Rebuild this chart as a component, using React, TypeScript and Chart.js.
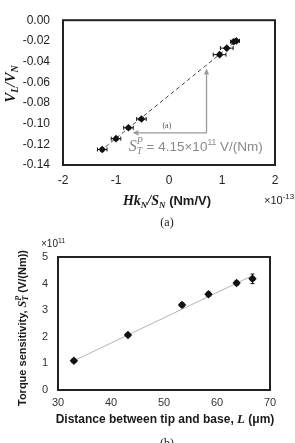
import React, { useEffect, useRef } from "react";
import { Chart, registerables } from "chart.js";

Chart.register(...registerables);

// ---- Panel (a): normalized output V_L/V_N versus Hk_N/S_N (×10^-13 Nm/V) ----
const hkX = [-1.26, -1.0, -0.765, -0.52, 0.955, 1.09, 1.22, 1.27];
const vRatio = [-0.125, -0.1145, -0.104, -0.0955, -0.0333, -0.027, -0.0208, -0.02];
const hkXErr = [0.09, 0.09, 0.09, 0.09, 0.12, 0.12, 0.06, 0.06];
const vRatioErr = [0.0015, 0.0015, 0.0015, 0.0015, 0.0015, 0.0015, 0.0015, 0.0015];
const sensitivityA = 4.15; // S_T^P in ×10^11 V/(Nm)
const fitInterceptA = -0.0727;
const fitRangeA = [-1.3, 1.3];
const xTicksA = [-2, -1, 0, 1, 2];
const yTicksA = [0, -0.02, -0.04, -0.06, -0.08, -0.1, -0.12, -0.14];
// arrow annotation: corner point, top of vertical arrow, left end of horizontal arrow
const arrowCorner = { x: 0.708, y: -0.1089 };
const arrowTopY = -0.0467;
const arrowLeftX = -0.69;

// ---- Panel (b): torque sensitivity versus tip-base distance L ----
const distanceL = [33.0, 43.2, 53.4, 58.4, 63.7, 66.7];
const sensitivityB = [1.1, 2.07, 3.2, 3.6, 4.02, 4.18];
const distanceErr = [0.4, 0.4, 0.4, 0.4, 0.4, 0.4];
const sensitivityErr = [0.06, 0.06, 0.08, 0.08, 0.08, 0.18];
const fitL = [33, 66.7];
const fitS = [1.1, 4.3];
const xTicksB = [30, 40, 50, 60, 70];
const yTicksB = [0, 1, 2, 3, 4, 5];

const SANS = '"Liberation Sans", Arial, sans-serif';
const SERIF = '"Liberation Serif", "Times New Roman", serif';

type Seg = { t: string; font: string; dy?: number; adv?: boolean };

function richWidth(ctx: CanvasRenderingContext2D, segs: Seg[]) {
  let w = 0;
  for (const s of segs) {
    ctx.font = s.font;
    if (s.adv !== false) w += ctx.measureText(s.t).width;
  }
  return w;
}

function drawRich(
  ctx: CanvasRenderingContext2D,
  segs: Seg[],
  x: number,
  y: number,
  align: "left" | "center",
  color: string
) {
  ctx.save();
  ctx.fillStyle = color;
  ctx.textBaseline = "alphabetic";
  ctx.textAlign = "left";
  let cx = align === "center" ? x - richWidth(ctx, segs) / 2 : x;
  for (const s of segs) {
    ctx.font = s.font;
    ctx.fillText(s.t, cx, y + (s.dy || 0));
    if (s.adv !== false) cx += ctx.measureText(s.t).width;
  }
  ctx.restore();
}

function drawRotated(
  ctx: CanvasRenderingContext2D,
  segs: Seg[],
  cx: number,
  cy: number,
  baseOffset: number,
  color: string
) {
  ctx.save();
  ctx.translate(cx, cy);
  ctx.rotate(-Math.PI / 2);
  drawRich(ctx, segs, 0, baseOffset, "center", color);
  ctx.restore();
}

function drawErrorBars(
  chart: any,
  xs: number[],
  ys: number[],
  xe: number[],
  ye: number[],
  cap: number
) {
  const ctx: CanvasRenderingContext2D = chart.ctx;
  const sx = chart.scales.x;
  const sy = chart.scales.y;
  ctx.save();
  ctx.strokeStyle = "#111";
  ctx.lineWidth = 1;
  for (let i = 0; i < xs.length; i++) {
    const px = sx.getPixelForValue(xs[i]);
    const py = sy.getPixelForValue(ys[i]);
    const x0 = sx.getPixelForValue(xs[i] - xe[i]);
    const x1 = sx.getPixelForValue(xs[i] + xe[i]);
    const y0 = sy.getPixelForValue(ys[i] - ye[i]);
    const y1 = sy.getPixelForValue(ys[i] + ye[i]);
    ctx.beginPath();
    ctx.moveTo(x0, py);
    ctx.lineTo(x1, py);
    ctx.moveTo(x0, py - cap);
    ctx.lineTo(x0, py + cap);
    ctx.moveTo(x1, py - cap);
    ctx.lineTo(x1, py + cap);
    ctx.moveTo(px, y0);
    ctx.lineTo(px, y1);
    ctx.moveTo(px - cap, y0);
    ctx.lineTo(px + cap, y0);
    ctx.moveTo(px - cap, y1);
    ctx.lineTo(px + cap, y1);
    ctx.stroke();
  }
  ctx.restore();
}

function drawBox(chart: any) {
  const { ctx, chartArea: a } = chart;
  ctx.save();
  ctx.strokeStyle = "#222";
  ctx.lineWidth = 2;
  ctx.strokeRect(a.left, a.top, a.right - a.left, a.bottom - a.top);
  ctx.restore();
}

function arrow(
  ctx: CanvasRenderingContext2D,
  x0: number,
  y0: number,
  x1: number,
  y1: number,
  color: string
) {
  const ang = Math.atan2(y1 - y0, x1 - x0);
  const len = 6;
  const half = 2.6;
  ctx.save();
  ctx.strokeStyle = color;
  ctx.fillStyle = color;
  ctx.lineWidth = 1.3;
  ctx.beginPath();
  ctx.moveTo(x0, y0);
  ctx.lineTo(x1 - Math.cos(ang) * len, y1 - Math.sin(ang) * len);
  ctx.stroke();
  ctx.beginPath();
  ctx.moveTo(x1, y1);
  ctx.lineTo(
    x1 - Math.cos(ang) * len - Math.sin(ang) * half,
    y1 - Math.sin(ang) * len + Math.cos(ang) * half
  );
  ctx.lineTo(
    x1 - Math.cos(ang) * len + Math.sin(ang) * half,
    y1 - Math.sin(ang) * len - Math.cos(ang) * half
  );
  ctx.closePath();
  ctx.fill();
  ctx.restore();
}

const fixedTicks = (vals: number[]) => (scale: any) => {
  scale.ticks = vals.map((v) => ({ value: v }));
};

const panelAPlugin = {
  id: "panelA",
  beforeDatasetsDraw(chart: any) {
    drawErrorBars(chart, hkX, vRatio, hkXErr, vRatioErr, 2);
  },
  afterDraw(chart: any) {
    const ctx: CanvasRenderingContext2D = chart.ctx;
    const sx = chart.scales.x;
    const sy = chart.scales.y;
    drawBox(chart);

    // slope annotation arrows
    const cx = sx.getPixelForValue(arrowCorner.x);
    const cy = sy.getPixelForValue(arrowCorner.y);
    arrow(ctx, cx, cy, cx, sy.getPixelForValue(arrowTopY), "#9a9a9a");
    arrow(ctx, cx, cy, sx.getPixelForValue(arrowLeftX), cy, "#9a9a9a");
    drawRich(
      ctx,
      [{ t: "(a)", font: `8px ${SERIF}` }],
      sx.getPixelForValue(-0.04),
      sy.getPixelForValue(-0.1013) + 3,
      "center",
      "#555"
    );

    // S_T^P label
    const g = "#8a8a8a";
    drawRich(
      ctx,
      [
        { t: "S", font: `italic 16px ${SERIF}` },
        { t: "T", font: `italic 10px ${SERIF}`, dy: 3, adv: false },
        { t: "P", font: `italic 10px ${SERIF}`, dy: -7 },
        { t: ` = ${sensitivityA.toFixed(2)}×10`, font: `13.5px ${SANS}` },
        { t: "11", font: `8.5px ${SANS}`, dy: -6 },
        { t: " V/(Nm)", font: `13.5px ${SANS}` },
      ],
      sx.getPixelForValue(-0.76),
      sy.getPixelForValue(-0.122) + 5,
      "left",
      g
    );

    // axis titles
    drawRotated(
      ctx,
      [
        { t: "V", font: `bold italic 15px ${SERIF}` },
        { t: "L", font: `bold italic 10px ${SERIF}`, dy: 3 },
        { t: "/V", font: `bold italic 15px ${SERIF}` },
        { t: "N", font: `bold italic 10px ${SERIF}`, dy: 3 },
      ],
      10,
      84,
      5,
      "#1a1a1a"
    );
    drawRich(
      ctx,
      [
        { t: "Hk", font: `bold italic 14px ${SERIF}` },
        { t: "N", font: `bold italic 9px ${SERIF}`, dy: 3 },
        { t: "/S", font: `bold italic 14px ${SERIF}` },
        { t: "N", font: `bold italic 9px ${SERIF}`, dy: 3 },
        { t: " (Nm/V)", font: `bold 13px ${SANS}` },
      ],
      167,
      205,
      "center",
      "#1a1a1a"
    );
    drawRich(
      ctx,
      [
        { t: "×10", font: `11px ${SANS}` },
        { t: "-13", font: `8px ${SANS}`, dy: -5 },
      ],
      264,
      204,
      "left",
      "#222"
    );
    drawRich(ctx, [{ t: "(a)", font: `12px ${SERIF}` }], 167, 226, "center", "#222");
  },
};

const panelBPlugin = {
  id: "panelB",
  beforeDatasetsDraw(chart: any) {
    drawErrorBars(chart, distanceL, sensitivityB, distanceErr, sensitivityErr, 2);
  },
  afterDraw(chart: any) {
    const ctx: CanvasRenderingContext2D = chart.ctx;
    drawBox(chart);
    const top = 232;
    drawRotated(
      ctx,
      [
        { t: "Torque sensitivity, ", font: `bold 11px ${SANS}` },
        { t: "S", font: `bold italic 12px ${SERIF}` },
        { t: "T", font: `bold italic 8px ${SERIF}`, dy: 2, adv: false },
        { t: "P", font: `bold italic 8px ${SERIF}`, dy: -5 },
        { t: " (V/(Nm))", font: `bold 11px ${SANS}` },
      ],
      22,
      328 - top,
      4,
      "#1a1a1a"
    );
    drawRich(
      ctx,
      [
        { t: "×10", font: `10px ${SANS}` },
        { t: "11", font: `7px ${SANS}`, dy: -4 },
      ],
      41,
      247 - top,
      "left",
      "#222"
    );
    drawRich(
      ctx,
      [
        { t: "Distance between tip and base, ", font: `bold 12px ${SANS}` },
        { t: "L", font: `bold italic 13px ${SERIF}` },
        { t: " (μm)", font: `bold 12px ${SANS}` },
      ],
      165,
      423 - top,
      "center",
      "#1a1a1a"
    );
    drawRich(ctx, [{ t: "(b)", font: `12px ${SERIF}` }], 167, 447 - top, "center", "#222");
  },
};

function tickFont(size: number) {
  return { family: SANS, size };
}

export default function App() {
  const refA = useRef<HTMLCanvasElement>(null);
  const refB = useRef<HTMLCanvasElement>(null);

  useEffect(() => {
    const fitA = fitRangeA.map((x) => ({
      x,
      y: sensitivityA * 0.01 * x + fitInterceptA, // 10^11 × 10^-13 = 10^-2
    }));
    const chartA = new Chart(refA.current as HTMLCanvasElement, {
      type: "scatter",
      data: {
        datasets: [
          {
            data: fitA,
            showLine: true,
            borderColor: "#444",
            borderWidth: 1,
            borderDash: [4, 3],
            pointRadius: 0,
            order: 1,
          },
          {
            data: hkX.map((x, i) => ({ x, y: vRatio[i] })),
            pointStyle: "rectRot",
            pointRadius: 3.8,
            backgroundColor: "#111",
            borderColor: "#111",
            borderWidth: 0,
            order: 0,
          },
        ],
      },
      options: {
        responsive: false,
        animation: false,
        events: [],
        layout: { padding: { left: 0, right: 20, top: 15, bottom: 0 } },
        plugins: { legend: { display: false }, tooltip: { enabled: false } },
        scales: {
          x: {
            type: "linear",
            min: -2,
            max: 2,
            afterBuildTicks: fixedTicks(xTicksA),
            afterFit: (s: any) => {
              s.height = 67;
            },
            grid: { display: false, drawTicks: false },
            border: { display: false },
            ticks: { color: "#222", font: tickFont(12), padding: 8, callback: (v: any) => String(v) },
          },
          y: {
            type: "linear",
            min: -0.14,
            max: 0,
            afterBuildTicks: fixedTicks(yTicksA),
            afterFit: (s: any) => {
              s.width = 63;
            },
            grid: { display: false, drawTicks: false },
            border: { display: false },
            ticks: {
              color: "#222",
              font: tickFont(12),
              padding: 13,
              callback: (v: any) => Number(v).toFixed(2),
            },
          },
        },
      },
      plugins: [panelAPlugin],
    } as any);

    const chartB = new Chart(refB.current as HTMLCanvasElement, {
      type: "scatter",
      data: {
        datasets: [
          {
            data: fitL.map((x, i) => ({ x, y: fitS[i] })),
            showLine: true,
            borderColor: "#b4b4b4",
            borderWidth: 1,
            pointRadius: 0,
            order: 1,
          },
          {
            data: distanceL.map((x, i) => ({ x, y: sensitivityB[i] })),
            pointStyle: "rectRot",
            pointRadius: 4.2,
            backgroundColor: "#111",
            borderColor: "#111",
            borderWidth: 0,
            order: 0,
          },
        ],
      },
      options: {
        responsive: false,
        animation: false,
        events: [],
        layout: { padding: { left: 0, right: 25, top: 25, bottom: 0 } },
        plugins: { legend: { display: false }, tooltip: { enabled: false } },
        scales: {
          x: {
            type: "linear",
            min: 30,
            max: 70,
            afterBuildTicks: fixedTicks(xTicksB),
            afterFit: (s: any) => {
              s.height = 53;
            },
            grid: { display: false, drawTicks: false },
            border: { display: false },
            ticks: { color: "#333", font: tickFont(11), padding: 6 },
          },
          y: {
            type: "linear",
            min: 0,
            max: 5,
            afterBuildTicks: fixedTicks(yTicksB),
            afterFit: (s: any) => {
              s.width = 58;
            },
            grid: { display: false, drawTicks: false },
            border: { display: false },
            ticks: { color: "#333", font: tickFont(11), padding: 10 },
          },
        },
      },
      plugins: [panelBPlugin],
    } as any);

    return () => {
      chartA.destroy();
      chartB.destroy();
    };
  }, []);

  return (
    <div
      style={{
        position: "absolute",
        left: 0,
        top: 0,
        width: 295,
        height: 443,
        background: "#fff",
        overflow: "hidden",
      }}
    >
      <canvas
        ref={refA}
        width={295}
        height={232}
        style={{ position: "absolute", left: 0, top: 0, width: 295, height: 232 }}
      />
      <canvas
        ref={refB}
        width={295}
        height={211}
        style={{ position: "absolute", left: 0, top: 232, width: 295, height: 211 }}
      />
    </div>
  );
}
